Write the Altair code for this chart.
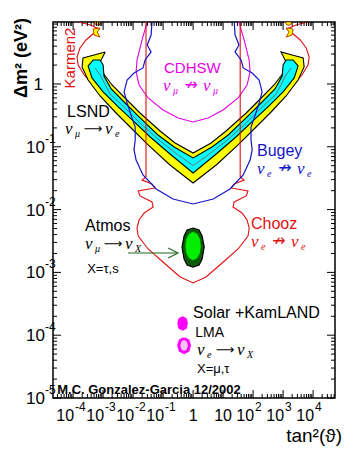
import altair as alt
import numpy as np
import pandas as pd

# ---------------- axis ranges ----------------
X_DOMAIN = [10 ** -4.67, 10 ** 4.73]   # tan^2(theta)
Y_DOMAIN = [1e-5, 10 ** 0.987]         # dm^2 (eV^2)
W, H = 282, 376

# ---------------- data (log10 tan^2, log10 dm^2) ----------------
# LSND 99% CL region (yellow)
lsnd99_lx = [-2.93, -3.30, -3.67, -3.70, -3.50, -3.10, -2.60, -2.10, -1.50, -0.77, 0.00,
             0.77, 1.50, 2.10, 2.60, 3.10, 3.50, 3.70, 3.67, 3.30, 2.93,
             3.10, 3.03, 2.70, 2.27, 1.77, 1.10, 0.60, 0.00,
             -0.60, -1.10, -1.77, -2.27, -2.70, -3.03, -3.10, -2.93]
lsnd99_ly = [0.510, 0.462, 0.414, 0.271, 0.064, -0.191, -0.446, -0.685, -0.971, -1.290, -1.576,
             -1.290, -0.971, -0.685, -0.446, -0.191, 0.064, 0.271, 0.414, 0.462, 0.510,
             0.350, 0.191, -0.016, -0.223, -0.462, -0.748, -0.939, -1.099,
             -0.939, -0.748, -0.462, -0.223, -0.016, 0.191, 0.350, 0.510]
# LSND 90% CL region (cyan)
lsnd90_lx = [-3.10, -3.33, -3.50, -3.37, -3.00, -2.53, -2.03, -1.43, -0.73, 0.00,
             0.73, 1.43, 2.03, 2.53, 3.00, 3.37, 3.50, 3.33, 3.10,
             3.00, 2.97, 2.73, 2.30, 1.80, 1.17, 0.63, 0.00,
             -0.63, -1.17, -1.80, -2.30, -2.73, -2.97, -3.00, -3.10]
lsnd90_ly = [0.382, 0.382, 0.287, 0.096, -0.127, -0.350, -0.573, -0.844, -1.131, -1.417,
             -1.131, -0.844, -0.573, -0.350, -0.127, 0.096, 0.287, 0.382, 0.382,
             0.303, 0.127, -0.080, -0.287, -0.525, -0.812, -1.003, -1.178,
             -1.003, -0.812, -0.525, -0.287, -0.080, 0.127, 0.303, 0.382]
# LSND best-fit line
lsndbf_lx = [-3.27, -3.10, -2.77, -2.27, -1.77, -1.10, -0.50, 0.00, 0.50, 1.10, 1.77, 2.27, 2.77, 3.10, 3.27]
lsndbf_ly = [0.255, 0.143, -0.159, -0.382, -0.621, -0.908, -1.131, -1.298, -1.131, -0.908, -0.621, -0.382, -0.159, 0.143, 0.255]
# LSND small islands at large dm^2
island_id = [0, 0, 0, 0, 0, 1, 1, 1, 1, 1, 1, 2, 2, 2, 2, 2, 3, 3, 3, 3, 3, 3]
island_lx = [-3.30, -3.07, -3.13, -3.23, -3.30, -3.33, -3.10, -3.20, -3.10, -3.30, -3.33,
             3.30, 3.07, 3.13, 3.23, 3.30, 3.33, 3.10, 3.20, 3.10, 3.30, 3.33]
island_ly = [0.987, 0.987, 0.939, 0.939, 0.987, 0.876, 0.892, 0.828, 0.748, 0.780, 0.876,
             0.987, 0.987, 0.939, 0.939, 0.987, 0.876, 0.892, 0.828, 0.748, 0.780, 0.876]
# Karmen2 exclusion
karmen_lx = [-3.80, -3.43, -3.13, -3.30, -3.57, -3.77, -3.87, -3.83, -3.63, -3.10, -2.27, -1.43, -0.60, 0.00,
             0.60, 1.43, 2.27, 3.10, 3.63, 3.83, 3.87, 3.77, 3.57, 3.30, 3.13, 3.43, 3.80]
karmen_ly = [0.987, 0.939, 0.876, 0.812, 0.701, 0.573, 0.430, 0.303, 0.143, -0.143, -0.446, -0.780, -1.051, -1.210,
             -1.051, -0.780, -0.446, -0.143, 0.143, 0.303, 0.430, 0.573, 0.701, 0.812, 0.876, 0.939, 0.987]
# Chooz exclusion
chooz_lx = [-1.57, -1.57, -1.70, -1.37, -1.27, -1.83, -1.77, -1.37, -1.33, -1.63, -1.80, -1.87, -1.83, -1.50, -0.93, -0.43, 0.00,
            0.43, 0.93, 1.50, 1.83, 1.87, 1.80, 1.63, 1.33, 1.37, 1.77, 1.83, 1.27, 1.37, 1.70, 1.57, 1.57]
chooz_ly = [0.987, -1.481, -1.529, -1.592, -1.656, -1.704, -1.783, -1.879, -1.959, -2.054, -2.166, -2.293, -2.420, -2.627, -2.866, -3.073, -3.169,
            -3.073, -2.866, -2.627, -2.420, -2.293, -2.166, -2.054, -1.959, -1.879, -1.783, -1.704, -1.656, -1.592, -1.529, -1.481, 0.987]
# Bugey exclusion
bugey_lx = [-1.37, -1.40, -1.53, -1.40, -1.60, -1.67, -1.97, -2.20, -2.30, -2.20, -2.07, -1.93, -1.93, -1.97, -1.90, -1.67, -1.23, -0.67, 0.00,
            0.67, 1.23, 1.67, 1.90, 1.97, 1.93, 1.93, 2.07, 2.20, 2.30, 2.20, 1.97, 1.67, 1.60, 1.40, 1.53, 1.40, 1.37]
bugey_ly = [0.987, 0.780, 0.621, 0.510, 0.382, 0.255, 0.175, 0.064, -0.127, -0.303, -0.494, -0.685, -0.892, -1.051, -1.210, -1.449, -1.672, -1.831, -1.911,
            -1.831, -1.672, -1.449, -1.210, -1.051, -0.892, -0.685, -0.494, -0.303, -0.127, 0.064, 0.175, 0.255, 0.382, 0.510, 0.621, 0.780, 0.987]
# CDHSW exclusion
cdhsw_lx = [-1.53, -1.70, -1.87, -1.90, -1.80, -1.50, -1.00, -0.50, 0.00, 0.50, 1.00, 1.50, 1.80, 1.90, 1.87, 1.70, 1.53]
cdhsw_ly = [0.987, 0.701, 0.382, 0.191, -0.016, -0.223, -0.414, -0.541, -0.605, -0.541, -0.414, -0.223, -0.016, 0.191, 0.382, 0.701, 0.987]
# Atmospheric allowed region
atm_out_lx = [0.00, 0.20, 0.30, 0.37, 0.30, 0.20, 0.00, -0.20, -0.30, -0.37, -0.30, -0.20, 0.00]
atm_out_ly = [-2.293, -2.325, -2.420, -2.596, -2.787, -2.882, -2.914, -2.882, -2.787, -2.596, -2.420, -2.325, -2.293]
atm_in_lx = [0.00, 0.13, 0.22, 0.25, 0.22, 0.13, 0.00, -0.13, -0.22, -0.25, -0.22, -0.13, 0.00]
atm_in_ly = [-2.357, -2.389, -2.468, -2.580, -2.691, -2.771, -2.803, -2.771, -2.691, -2.580, -2.468, -2.389, -2.357]
# Solar + KamLAND LMA regions
lma2_lx = [-0.35, -0.23, -0.20, -0.23, -0.35, -0.47, -0.50, -0.47, -0.35]
lma2_ly = [-3.710, -3.742, -3.806, -3.885, -3.917, -3.885, -3.806, -3.742, -3.710]
lma1_lx = [-0.30, -0.17, -0.12, -0.17, -0.30, -0.43, -0.48, -0.43, -0.30]
lma1_ly = [-4.053, -4.084, -4.164, -4.244, -4.275, -4.244, -4.164, -4.084, -4.053]
# arrow pointing at the atmospheric region
arrow_lx = [-2.17, -0.50]
arrow_ly = [-2.691, -2.691]
arrowhead_lx = [-0.83, -0.50, -0.83]
arrowhead_ly = [-2.611, -2.691, -2.771]

# ---------------- labels ----------------
label_text = ["LSND", "Atmos", "Bugey", "Chooz", "CDHSW", "Solar +KamLAND", "LMA"]
label_lx = [-4.20, -3.60, 2.13, 1.93, -0.97, 0.00, 0.07]
label_ly = [-0.525, -2.341, -1.146, -2.309, 0.175, -3.726, -4.029]
label_color = ["black", "black", "#1414c8", "#e01010", "#e400e4", "black", "black"]
label_size = [16, 16, 16, 16, 15, 16, 14]

small_text = ["X=τ,s", "X=μ,τ"]
small_lx = [-3.53, 0.13]
small_ly = [-3.010, -4.602]

react_lx = [-4.27, -3.60, 2.13, 1.93, -1.00, 0.13]
react_ly = [-0.796, -2.627, -1.433, -2.596, -0.111, -4.315]
react_sub1 = ["μ", "μ", "e", "e", "μ", "e"]
react_arrow = ["⟶", "⟶", "↛", "↛", "↛", "⟶"]
react_sub2 = ["e", "X", "e", "e", "μ", "X"]
react_color = ["black", "black", "#1414c8", "#e01010", "#e400e4", "black"]

karmen_label = ("Karmen2", -4.10, 0.414)
credit_label = ("M.C. Gonzalez-Garcia 12/2002", -4.53, -4.936)

y_decades = [-5, -4, -3, -2, -1, 0]
x_decades = [-4, -3, -2, -1, 0, 1, 2, 3, 4]

# ---------------- helpers ----------------
xs = alt.Scale(type="log", domain=X_DOMAIN, nice=False)
ys = alt.Scale(type="log", domain=Y_DOMAIN, nice=False)
X = alt.X("t:Q", scale=xs, axis=None)
Y = alt.Y("d:Q", scale=ys, axis=None)
FONT = "Liberation Sans"


def pts(lx, ly, gid=None):
    df = pd.DataFrame({"t": np.power(10.0, lx), "d": np.power(10.0, ly), "i": np.arange(len(lx))})
    df["g"] = gid if gid is not None else 0
    return df


def curve(lx, ly, gid=None, **mk):
    return alt.Chart(pts(lx, ly, gid)).mark_line(clip=True, **mk).encode(
        x=X, y=Y, order="i:Q", detail="g:N")


def text_at(lx, ly, s, **mk):
    df = pd.DataFrame({"t": [10.0 ** lx], "d": [10.0 ** ly], "s": [s]})
    return alt.Chart(df).mark_text(**mk).encode(x=X, y=Y, text="s:N")


layers = []
# exclusion curves below LSND
layers.append(curve(karmen_lx, karmen_ly, stroke="#e01010", strokeWidth=1.1))
layers.append(curve(cdhsw_lx, cdhsw_ly, stroke="#e400e4", strokeWidth=1.1))
# LSND
layers.append(curve(lsnd99_lx, lsnd99_ly, fill="#ffff00", stroke="black", strokeWidth=1.1))
layers.append(curve(lsnd90_lx, lsnd90_ly, fill="#00ffff", stroke="black", strokeWidth=1.1))
layers.append(curve(lsndbf_lx, lsndbf_ly, stroke="#707070", strokeWidth=1))
layers.append(curve(island_lx, island_ly, gid=island_id, fill="#ffff00", stroke="#c04000", strokeWidth=1))
# exclusion curves above LSND
layers.append(curve(chooz_lx, chooz_ly, stroke="#e01010", strokeWidth=1.1))
layers.append(curve(bugey_lx, bugey_ly, stroke="#1414c8", strokeWidth=1.2))
# atmospheric
layers.append(curve(atm_out_lx, atm_out_ly, fill="#0d5a0d", stroke="black", strokeWidth=1.2))
layers.append(curve(atm_in_lx, atm_in_ly, fill="#00ee00", stroke="#00ee00", strokeWidth=0.5))
layers.append(curve(arrow_lx, arrow_ly, stroke="#1d6b1d", strokeWidth=1.1))
layers.append(curve(arrowhead_lx, arrowhead_ly, stroke="#1d6b1d", strokeWidth=1.1))
# solar
layers.append(curve(lma2_lx, lma2_ly, fill="#ff00ff", stroke="#ff00ff", strokeWidth=1.5))
layers.append(curve(lma1_lx, lma1_ly, fill="#f4c4f4", stroke="#ff00ff", strokeWidth=3))

# labels
for s, lx, ly, c, fs in zip(label_text, label_lx, label_ly, label_color, label_size):
    layers.append(text_at(lx, ly, s, align="left", baseline="alphabetic", font=FONT, fontSize=fs, color=c))
for s, lx, ly in zip(small_text, small_lx, small_ly):
    layers.append(text_at(lx, ly, s, align="left", baseline="alphabetic", font=FONT, fontSize=13, color="black"))
for lx, ly, s1, ar, s2, c in zip(react_lx, react_ly, react_sub1, react_arrow, react_sub2, react_color):
    asize = 13 if ar == "⟶" else 16
    layers.append(text_at(lx, ly, "ν", align="left", baseline="alphabetic", font="Liberation Serif",
                          fontStyle="italic", fontSize=17, color=c))
    layers.append(text_at(lx, ly, s1, align="left", baseline="alphabetic", font="Liberation Serif",
                          fontStyle="italic", fontSize=10, dx=10, dy=3, color=c))
    layers.append(text_at(lx, ly, ar, align="center", baseline="alphabetic", font="DejaVu Sans",
                          fontSize=asize, dx=28, dy=-1, color=c))
    layers.append(text_at(lx, ly, "ν", align="left", baseline="alphabetic", font="Liberation Serif",
                          fontStyle="italic", fontSize=17, dx=40, color=c))
    layers.append(text_at(lx, ly, s2, align="left", baseline="alphabetic", font="Liberation Serif",
                          fontStyle="italic", fontSize=10, dx=50, dy=3, color=c))
layers.append(text_at(karmen_label[1], karmen_label[2], karmen_label[0], angle=270, align="center",
                      baseline="middle", font=FONT, fontSize=15, color="#e01010"))
layers.append(text_at(credit_label[1], credit_label[2], credit_label[0], align="left", baseline="alphabetic",
                      font=FONT, fontSize=13, fontWeight="bold", color="black"))

# ticks (inward, on all four sides)
y_major = [10.0 ** k for k in y_decades]
y_minor = [m * 10.0 ** k for k in y_decades for m in range(2, 10) if m * 10.0 ** k <= Y_DOMAIN[1]]
x_major = [10.0 ** k for k in x_decades]
x_minor = [m * 10.0 ** k for k in range(-5, 5) for m in range(2, 10)
           if X_DOMAIN[0] <= m * 10.0 ** k <= X_DOMAIN[1]]

for vals, size in ((y_major, 8), (y_minor, 4)):
    df = pd.DataFrame({"d": vals})
    layers.append(alt.Chart(df).mark_rule(color="black", strokeWidth=1).encode(
        y=Y, x=alt.value(0), x2=alt.value(size)))
    layers.append(alt.Chart(df).mark_rule(color="black", strokeWidth=1).encode(
        y=Y, x=alt.value(W), x2=alt.value(W - size)))
for vals, size in ((x_major, 8), (x_minor, 4)):
    df = pd.DataFrame({"t": vals})
    layers.append(alt.Chart(df).mark_rule(color="black", strokeWidth=1).encode(
        x=X, y=alt.value(H), y2=alt.value(H - size)))
    layers.append(alt.Chart(df).mark_rule(color="black", strokeWidth=1).encode(
        x=X, y=alt.value(0), y2=alt.value(size)))

# y tick labels
ylab_exp = pd.DataFrame({"t": X_DOMAIN[0], "d": [10.0 ** k for k in y_decades if k < 0],
                         "b": ["10" for k in y_decades if k < 0],
                         "e": ["-%d" % (-k) for k in y_decades if k < 0]})
layers.append(alt.Chart(ylab_exp).mark_text(align="right", baseline="alphabetic", dx=-8, dy=6,
                                            font=FONT, fontSize=17).encode(x=X, y=Y, text="b:N"))
layers.append(alt.Chart(ylab_exp).mark_text(align="left", baseline="alphabetic", dx=-8, dy=-4,
                                            font=FONT, fontSize=12).encode(x=X, y=Y, text="e:N"))
ylab_one = pd.DataFrame({"t": [X_DOMAIN[0]], "d": [1.0], "b": ["1"]})
layers.append(alt.Chart(ylab_one).mark_text(align="right", baseline="alphabetic", dx=-10, dy=6,
                                            font=FONT, fontSize=17).encode(x=X, y=Y, text="b:N"))

# x tick labels
xe = [k for k in x_decades if k < 0 or k > 1]
xlab_exp = pd.DataFrame({"t": [10.0 ** k for k in xe], "d": Y_DOMAIN[0], "b": ["10"] * len(xe),
                         "e": [("-%d" % (-k)) if k < 0 else str(k) for k in xe]})
layers.append(alt.Chart(xlab_exp).mark_text(align="right", baseline="alphabetic", dx=1, dy=23,
                                            font=FONT, fontSize=16).encode(x=X, y=Y, text="b:N"))
layers.append(alt.Chart(xlab_exp).mark_text(align="left", baseline="alphabetic", dx=2, dy=13,
                                            font=FONT, fontSize=12).encode(x=X, y=Y, text="e:N"))
xlab_plain = pd.DataFrame({"t": [1.0, 10.0], "d": Y_DOMAIN[0], "b": ["1", "10"]})
layers.append(alt.Chart(xlab_plain).mark_text(align="center", baseline="alphabetic", dy=23,
                                              font=FONT, fontSize=16).encode(x=X, y=Y, text="b:N"))

# axis titles
one = pd.DataFrame({"s": ["Δm² (eV²)"]})
layers.append(alt.Chart(one).mark_text(angle=270, align="center", baseline="middle", font=FONT,
                                       fontSize=18, fontWeight="bold").encode(
    x=alt.value(-31), y=alt.value(36), text="s:N"))
one2 = pd.DataFrame({"s": ["tan²(ϑ)"]})
layers.append(alt.Chart(one2).mark_text(align="right", baseline="alphabetic", font=FONT,
                                        fontSize=19).encode(
    x=alt.value(289), y=alt.value(420), text="s:N"))

chart = alt.layer(*layers).properties(
    width=W, height=H, autosize="none",
    padding={"left": 53, "top": 22, "right": 20, "bottom": 51},
    background="white",
).configure_view(stroke="black", strokeWidth=1.5)

chart.save("out.html", embed_options={"renderer": "svg", "actions": False})
